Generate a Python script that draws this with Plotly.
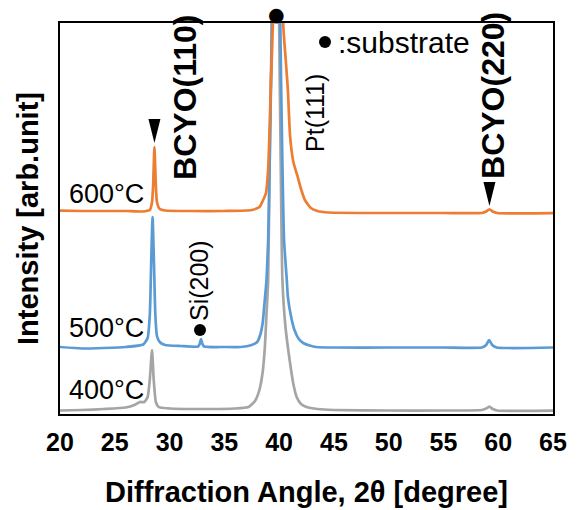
import plotly.graph_objects as go

FONT = "Liberation Sans, Arial, sans-serif"

# ---- data (2θ in degree, intensity in arbitrary units, offset stacked) ----
x_400 = [20.0, 22.0, 24.0, 26.0, 26.8, 27.3, 27.7, 28.0, 28.2, 28.4, 28.55, 28.75, 29.0, 30.0,
         33.0, 36.0, 37.2, 37.8, 38.2, 38.5, 38.7, 38.85, 39.0, 39.16, 39.34, 39.67, 40.0,
         40.15, 40.3, 40.6, 41.0, 41.3, 41.6, 42.0, 42.5, 43.5, 45.0, 50.0, 55.0, 58.5, 58.9,
         59.2, 59.5, 59.9, 65.0]
y_400 = [3.5, 4.0, 5.0, 6.5, 9.0, 12.0, 12.0, 17.0, 35.0, 64.0, 35.0, 12.0, 7.0, 5.5,
         5.0, 5.5, 7.0, 13.0, 24.0, 42.0, 67.0, 100.0, 134.0, 274.0, 400.0, 2500.0, 400.0,
         250.0, 134.0, 85.0, 51.0, 30.0, 17.0, 10.0, 7.0, 5.0, 4.0, 3.5, 3.5, 4.0, 5.5,
         7.3, 5.0, 3.5, 3.3]

x_500 = [20.0, 22.0, 24.0, 26.0, 27.6, 28.0, 28.2, 28.32, 28.45, 28.58, 28.7, 28.85, 29.1,
         29.6, 31.0, 32.6, 32.75, 32.87, 33.0, 33.15, 35.0, 36.5, 37.5, 38.0, 38.3, 38.5,
         38.7, 38.85, 39.0, 39.2, 39.35, 39.72, 40.1, 40.3, 40.45, 40.7, 40.8, 41.1, 41.4,
         41.8, 42.2, 42.8, 43.4, 45.0, 50.0, 55.0, 58.5, 58.9, 59.17, 59.45, 59.85, 65.0]
y_500 = [67.0, 65.5, 66.0, 67.0, 69.5, 76.0, 100.0, 150.0, 197.0, 150.0, 100.0, 78.0, 72.0,
         69.0, 68.0, 67.5, 70.0, 75.0, 70.0, 67.5, 67.0, 67.0, 69.0, 72.0, 80.0, 91.0,
         115.0, 134.0, 174.0, 290.0, 400.0, 2500.0, 400.0, 250.0, 174.0, 134.0, 117.0, 97.0, 84.0,
         75.0, 71.0, 68.5, 67.0, 66.5, 66.5, 66.5, 66.5, 69.0, 74.0, 69.0, 66.5, 66.5]

x_600 = [20.0, 22.0, 24.0, 26.0, 27.5, 28.2, 28.4, 28.5, 28.62, 28.75, 28.85, 29.1, 29.6,
         32.0, 35.0, 37.5, 38.2, 38.5, 38.8, 39.0, 39.1, 39.25, 39.45, 39.9, 40.37, 40.6,
         40.8, 41.0, 41.3, 41.7, 42.0, 42.35, 42.9, 43.5, 44.5, 50.0, 55.0, 58.5, 58.9, 59.2,
         59.5, 59.9, 65.0]
y_600 = [203.3, 203.0, 203.0, 203.0, 202.5, 204.0, 212.0, 228.0, 267.0, 228.0, 212.0, 205.0, 203.5,
         203.0, 203.0, 204.0, 207.0, 213.0, 221.0, 245.0, 274.0, 330.0, 400.0, 2500.0, 391.0, 355.0,
         324.0, 278.0, 252.0, 237.0, 225.0, 214.0, 206.0, 203.0, 201.5, 201.0, 201.0, 201.0, 202.5, 204.7,
         202.5, 201.0, 200.8]

series_names = ["400℃", "500℃", "600℃"]
series_colors = ["#A5A5A5", "#5B9BD5", "#ED7D31"]

x_ticks = [20, 25, 30, 35, 40, 45, 50, 55, 60, 65]

# label positions (data units)
temp_labels = ["400°C", "500°C", "600°C"]
temp_label_y = [24, 86, 220]
bcyo_labels = ["BCYO(110)", "BCYO(220)"]
bcyo_peak_x = [28.62, 59.2]
bcyo_label_x = [31.4, 59.52]
bcyo_label_y = [317, 319]
bcyo_tip_y = [271, 208]
substrate_dot_x = [32.78, 44.19]
substrate_dot_y = [84, 372]
pt_peak_x = 39.8

fig = go.Figure()
for xs, ys, name, col in zip([x_400, x_500, x_600], [y_400, y_500, y_600], series_names, series_colors):
    fig.add_trace(go.Scatter(x=xs, y=ys, mode="lines", name=name,
                             line=dict(color=col, width=2.7, shape="spline", smoothing=0.5),
                             showlegend=False, hoverinfo="skip"))

# substrate dots
fig.add_trace(go.Scatter(x=substrate_dot_x, y=substrate_dot_y, mode="markers",
                         marker=dict(color="black", size=12), cliponaxis=False,
                         showlegend=False, hoverinfo="skip"))
# dot above the Pt(111) substrate peak (outside the plot area)
fig.add_annotation(x=pt_peak_x, xref="x", y=1, yref="paper", yanchor="bottom", yshift=-4,
                   text="●", showarrow=False,
                   font=dict(family="DejaVu Sans", size=19, color="black"))

for txt, yy in zip(temp_labels, temp_label_y):
    fig.add_annotation(x=20.64, y=yy, text=txt, showarrow=False, xanchor="left", yanchor="middle",
                       font=dict(family=FONT, size=27, color="black"))

for txt, xl, yl, xp, yt in zip(bcyo_labels, bcyo_label_x, bcyo_label_y, bcyo_peak_x, bcyo_tip_y):
    fig.add_annotation(x=xl, y=yl, text="<b>" + txt + "</b>", showarrow=False, textangle=-90,
                       xanchor="center", yanchor="middle",
                       font=dict(family=FONT, size=32, color="black"))
    fig.add_shape(type="path", xref="x", yref="y", xsizemode="pixel", ysizemode="pixel",
                  xanchor=xp, yanchor=yt, path="M -6,24 L 6,24 L 0,0 Z",
                  fillcolor="black", line=dict(color="black", width=0))

fig.add_annotation(x=43.27, y=301, text="Pt(111)", showarrow=False, textangle=-90,
                   font=dict(family=FONT, size=25, color="black"))
fig.add_annotation(x=32.69, y=133, text="Si(200)", showarrow=False, textangle=-90,
                   font=dict(family=FONT, size=25, color="black"))
fig.add_annotation(x=45.19, y=372, text=":substrate", showarrow=False, xanchor="left",
                   yanchor="middle", font=dict(family=FONT, size=30, color="black"))

fig.update_layout(
    width=578, height=510,
    margin=dict(l=60, r=25, t=23, b=96),
    paper_bgcolor="white", plot_bgcolor="white",
    font=dict(family=FONT, color="black"),
)
fig.update_xaxes(range=[20, 65], tickvals=x_ticks, ticktext=[str(v) for v in x_ticks],
                 showgrid=False, zeroline=False, showline=True, linecolor="black", linewidth=2,
                 mirror=True, ticks="", ticklabelstandoff=5, automargin=False,
                 tickfont=dict(family=FONT, size=25, color="black", weight="bold"),
                 title=dict(text="<b>Diffraction Angle, 2θ [degree]</b>", standoff=27,
                            font=dict(family=FONT, size=29, color="black")))
fig.update_yaxes(range=[0, 391], showgrid=False, zeroline=False, showline=True, linecolor="black",
                 linewidth=2, mirror=True, ticks="", showticklabels=False, automargin=False,
                 title=dict(text="<b>Intensity [arb.unit]</b>", standoff=11,
                            font=dict(family=FONT, size=29, color="black")))

fig.write_html("out.html", config={"displayModeBar": False},
               post_script="document.body.style.margin='0';document.body.style.padding='0';")
